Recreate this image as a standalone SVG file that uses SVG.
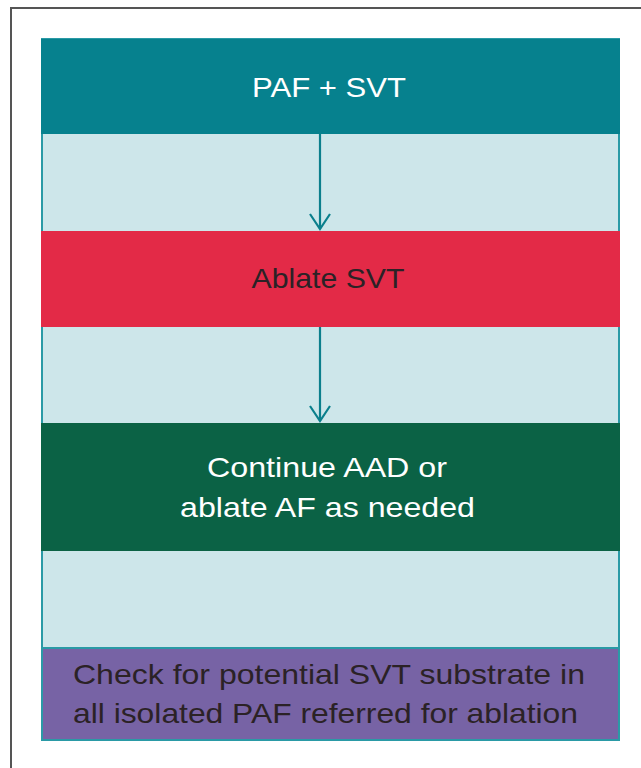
<svg xmlns="http://www.w3.org/2000/svg" width="641" height="768" viewBox="0 0 641 768">
<defs>
<style>
.t{font-family:"Liberation Sans",Arial,sans-serif;font-size:28.5px;text-anchor:middle}
.w{fill:#ffffff}
.d{fill:#2b2226}
.band{fill:#cde6ea;stroke:#2a9aa6;stroke-width:2}
.conn{stroke:#0b7f8c;stroke-width:2.2;fill:none}
</style>
</defs>
<rect width="641" height="768" fill="#ffffff"/>
<path d="M11,768 V8 H641" fill="none" stroke="#555" stroke-width="2"/>
<rect class="band" x="42" y="39" width="577" height="701"/>
<g id="n1">
<rect x="41" y="39" width="579" height="95" fill="#06818e"/>
<text class="t w" x="329" y="97" textLength="154" lengthAdjust="spacingAndGlyphs">PAF + SVT</text>
</g>
<g id="n2">
<rect x="41" y="231" width="579" height="96" fill="#e32a47"/>
<text class="t d" x="328" y="288" textLength="153" lengthAdjust="spacingAndGlyphs">Ablate SVT</text>
</g>
<g id="n3">
<rect x="41" y="423" width="579" height="128" fill="#0b6245"/>
<text class="t w" x="327" y="476.5" textLength="240" lengthAdjust="spacingAndGlyphs">Continue AAD or</text>
<text class="t w" x="327.5" y="517" textLength="295" lengthAdjust="spacingAndGlyphs">ablate AF as needed</text>
</g>
<g id="n4">
<rect x="42" y="648" width="577" height="92" fill="#7763a5" stroke="#2a9aa6" stroke-width="2"/>
<text class="t d" x="329" y="684" textLength="512" lengthAdjust="spacingAndGlyphs">Check for potential SVT substrate in</text>
<text class="t d" x="325.5" y="723" textLength="505" lengthAdjust="spacingAndGlyphs">all isolated PAF referred for ablation</text>
</g>
<g id="connectors">
<line class="conn" x1="320" y1="134" x2="320" y2="229"/>
<path class="conn" d="M310,214 L320,229 L330,214"/>
<line class="conn" x1="320" y1="327" x2="320" y2="421"/>
<path class="conn" d="M310,406 L320,421 L330,406"/>
</g>
</svg>
